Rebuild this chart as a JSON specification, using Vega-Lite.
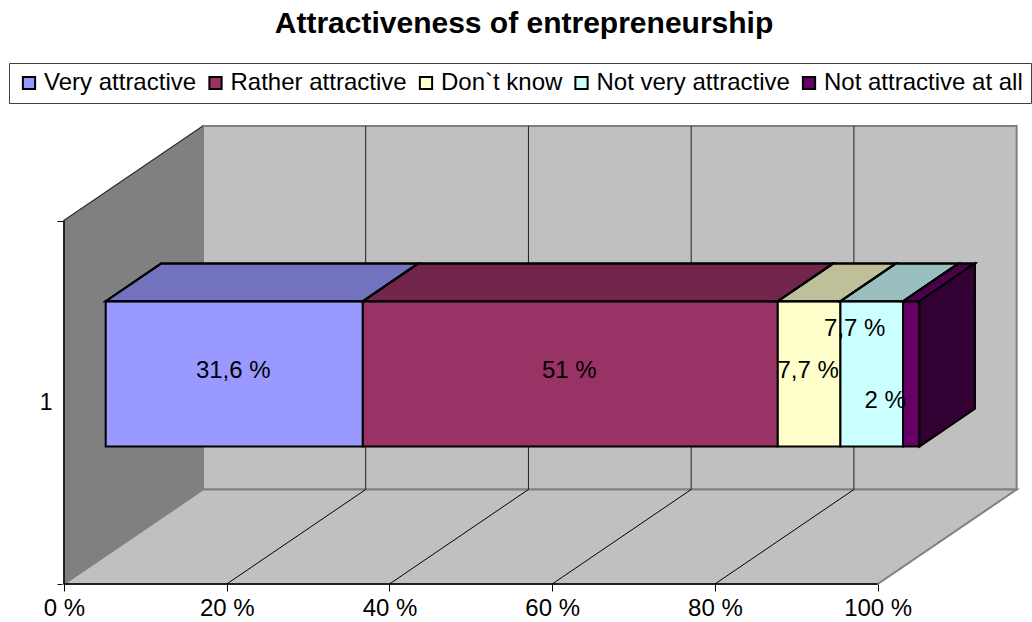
{"$schema":"https://vega.github.io/schema/vega-lite/v6.json","width":952,"height":458,"padding":{"left":64,"top":126,"right":16,"bottom":38},"autosize":{"type":"none"},"background":"white","title":{"text":"Attractiveness of entrepreneurship","font":"Liberation Sans","fontWeight":"bold","fontSize":30,"anchor":"middle","dx":-16,"offset":24,"color":"black"},"config":{"view":{"stroke":null},"font":"Liberation Sans"},"datasets":{"segments":[{"order":1,"name":"Very attractive","value":31.6,"label":"31,6 %"},{"order":2,"name":"Rather attractive","value":51,"label":"51 %"},{"order":3,"name":"Don`t know","value":7.7,"label":"7,7 %"},{"order":4,"name":"Not very attractive","value":7.7,"label":"7,7 %"},{"order":5,"name":"Not attractive at all","value":2,"label":"2 %"}],"depths":[{"d":0},{"d":1}],"ticks":[{"pct":20},{"pct":40},{"pct":60},{"pct":80}],"frame":[{"x0":0,"x1":100,"v0":0,"v1":1}]},"layer":[{"data":{"name":"depths"},"transform":[{"calculate":"datum.d*17.08","as":"px"},{"calculate":"datum.d*0.26","as":"py"},{"calculate":"1+datum.d*0.26","as":"py2"}],"mark":{"type":"area","orient":"vertical","fill":"#808080","stroke":"#808080","strokeWidth":1.5},"encoding":{"x":{"field":"px","type":"quantitative","scale":{"domain":[0,117],"nice":false,"zero":false},"title":null,"axis":{"values":[0,20,40,60,80,100],"domain":false,"grid":false,"tickColor":"black","tickSize":7,"labelFontSize":24,"labelFont":"Liberation Sans","labelColor":"black","labelPadding":5,"labelFlush":false,"labelOverlap":false,"labelExpr":"datum.value + ' %'"}},"y":{"field":"py","type":"quantitative","scale":{"domain":[0,1.26],"nice":false,"zero":false},"title":null,"axis":{"values":[0,0.5,1],"domain":false,"grid":false,"tickColor":"black","tickSize":7,"tickOpacity":{"condition":{"test":"datum.value===0.5","value":0},"value":1},"labelFontSize":23,"labelFont":"Liberation Sans","labelColor":"black","labelPadding":5,"labelOverlap":false,"labelExpr":"datum.value===0.5 ? '1' : ''"}},"y2":{"field":"py2"}}},{"data":{"name":"frame"},"transform":[{"calculate":"17.08","as":"a"},{"calculate":"117.08","as":"b"},{"calculate":"0.26","as":"c"},{"calculate":"1.26","as":"e"}],"mark":{"type":"rect","fill":"#c0c0c0","stroke":"#808080","strokeWidth":2},"encoding":{"x":{"field":"a","type":"quantitative"},"x2":{"field":"b"},"y":{"field":"c","type":"quantitative"},"y2":{"field":"e"}}},{"data":{"name":"depths"},"transform":[{"calculate":"datum.d*17.08","as":"xa"},{"calculate":"100+datum.d*17.08","as":"xb"},{"calculate":"datum.d*0.26","as":"py"}],"mark":{"type":"area","orient":"horizontal","fill":"#c0c0c0","stroke":"#808080","strokeWidth":2},"encoding":{"y":{"field":"py","type":"quantitative"},"x":{"field":"xa","type":"quantitative"},"x2":{"field":"xb"}}},{"data":{"name":"ticks"},"transform":[{"calculate":"datum.pct+17.08","as":"px"},{"calculate":"0.26","as":"c"},{"calculate":"1.26","as":"e"}],"mark":{"type":"rule","color":"#202020","strokeWidth":1},"encoding":{"x":{"field":"px","type":"quantitative"},"y":{"field":"c","type":"quantitative"},"y2":{"field":"e"}}},{"data":{"name":"ticks"},"transform":[{"calculate":"datum.pct+17.08","as":"px"},{"calculate":"0","as":"c"},{"calculate":"0.26","as":"e"}],"mark":{"type":"rule","color":"black","strokeWidth":1},"encoding":{"x":{"field":"pct","type":"quantitative"},"x2":{"field":"px"},"y":{"field":"c","type":"quantitative"},"y2":{"field":"e"}}},{"data":{"name":"frame"},"mark":{"type":"rule","color":"black","strokeWidth":1.5},"encoding":{"x":{"field":"x0","type":"quantitative"},"x2":{"field":"x1"},"y":{"field":"v0","type":"quantitative"}}},{"data":{"name":"frame"},"mark":{"type":"rule","color":"black","strokeWidth":1.5},"encoding":{"x":{"field":"x0","type":"quantitative"},"y":{"field":"v0","type":"quantitative"},"y2":{"field":"v1"}}},{"data":{"name":"frame"},"transform":[{"calculate":"17.08","as":"a"},{"calculate":"1.26","as":"e"}],"mark":{"type":"rule","color":"#202020","strokeWidth":1},"encoding":{"x":{"field":"x0","type":"quantitative"},"x2":{"field":"a"},"y":{"field":"v1","type":"quantitative"},"y2":{"field":"e"}}},{"data":{"name":"segments"},"transform":[{"stack":"value","groupby":[],"sort":[{"field":"order"}],"as":["start","end"]},{"calculate":"datum.start+0.3*17.08","as":"xa"},{"calculate":"datum.end+0.3*17.08","as":"xb"},{"calculate":"0.3+0.3*0.26","as":"yb"},{"calculate":"0.7+0.3*0.26","as":"yt"}],"mark":{"type":"rect","stroke":"black","strokeWidth":2},"encoding":{"x":{"field":"xa","type":"quantitative"},"x2":{"field":"xb"},"y":{"field":"yb","type":"quantitative"},"y2":{"field":"yt"},"color":{"field":"name","type":"nominal","title":null,"scale":{"domain":["Very attractive","Rather attractive","Don`t know","Not very attractive","Not attractive at all"],"range":["#9999ff","#993366","#ffffcc","#ccffff","#660066"]},"legend":{"orient":"none","legendX":-55,"legendY":-63,"direction":"horizontal","columns":5,"columnPadding":6.5,"symbolType":"square","symbolSize":150,"symbolStrokeWidth":2,"symbolStrokeColor":"black","symbolOpacity":1,"labelFont":"Liberation Sans","labelFontSize":24,"labelColor":"black","labelLimit":400,"labelOffset":3,"padding":8,"strokeColor":"#404040","fillColor":"white","sort":null}}}},{"data":{"name":"segments"},"transform":[{"stack":"value","groupby":[],"sort":[{"field":"order"}],"as":["start","end"]},{"calculate":"[0.3,0.7]","as":"d"},{"flatten":["d"]},{"calculate":"datum.start+datum.d*17.08","as":"xa"},{"calculate":"datum.end+datum.d*17.08","as":"xb"},{"calculate":"0.7+datum.d*0.26","as":"yt"}],"mark":{"type":"area","orient":"horizontal","stroke":"black","strokeWidth":2},"encoding":{"y":{"field":"yt","type":"quantitative"},"x":{"field":"xa","type":"quantitative"},"x2":{"field":"xb"},"color":{"field":"name","type":"nominal","legend":null}}},{"data":{"name":"segments"},"transform":[{"stack":"value","groupby":[],"sort":[{"field":"order"}],"as":["start","end"]},{"calculate":"[0.3,0.7]","as":"d"},{"flatten":["d"]},{"calculate":"datum.start+datum.d*17.08","as":"xa"},{"calculate":"datum.end+datum.d*17.08","as":"xb"},{"calculate":"0.7+datum.d*0.26","as":"yt"}],"mark":{"type":"area","orient":"horizontal","fill":"black","fillOpacity":0.25,"stroke":"black","strokeWidth":2},"encoding":{"y":{"field":"yt","type":"quantitative"},"x":{"field":"xa","type":"quantitative"},"x2":{"field":"xb"},"detail":{"field":"name"}}},{"data":{"name":"segments"},"transform":[{"stack":"value","groupby":[],"sort":[{"field":"order"}],"as":["start","end"]},{"filter":"datum.order===5"},{"calculate":"[0.3,0.7]","as":"d"},{"flatten":["d"]},{"calculate":"datum.end+datum.d*17.08","as":"xs"},{"calculate":"0.3+datum.d*0.26","as":"yb"},{"calculate":"0.7+datum.d*0.26","as":"yt"}],"mark":{"type":"area","orient":"vertical","fill":"#330033","stroke":"black","strokeWidth":2},"encoding":{"x":{"field":"xs","type":"quantitative"},"y":{"field":"yb","type":"quantitative"},"y2":{"field":"yt"}}},{"data":{"name":"segments"},"transform":[{"stack":"value","groupby":[],"sort":[{"field":"order"}],"as":["start","end"]},{"calculate":"(datum.start+datum.end)/2+0.3*17.08","as":"xm"},{"calculate":"0.5+0.3*0.26","as":"ym"},{"filter":"datum.order<=3"}],"mark":{"type":"text","font":"Liberation Sans","fontSize":24,"color":"black","dx":-1,"dy":-3},"encoding":{"x":{"field":"xm","type":"quantitative"},"y":{"field":"ym","type":"quantitative"},"text":{"field":"label"}}},{"data":{"name":"segments"},"transform":[{"stack":"value","groupby":[],"sort":[{"field":"order"}],"as":["start","end"]},{"calculate":"(datum.start+datum.end)/2+0.3*17.08","as":"xm"},{"calculate":"0.5+0.3*0.26","as":"ym"},{"filter":"datum.order===4"}],"mark":{"type":"text","font":"Liberation Sans","fontSize":24,"color":"black","dx":-17,"dy":-45},"encoding":{"x":{"field":"xm","type":"quantitative"},"y":{"field":"ym","type":"quantitative"},"text":{"field":"label"}}},{"data":{"name":"segments"},"transform":[{"stack":"value","groupby":[],"sort":[{"field":"order"}],"as":["start","end"]},{"calculate":"(datum.start+datum.end)/2+0.3*17.08","as":"xm"},{"calculate":"0.5+0.3*0.26","as":"ym"},{"filter":"datum.order===5"}],"mark":{"type":"text","font":"Liberation Sans","fontSize":24,"color":"black","dx":-26,"dy":27},"encoding":{"x":{"field":"xm","type":"quantitative"},"y":{"field":"ym","type":"quantitative"},"text":{"field":"label"}}}]}
